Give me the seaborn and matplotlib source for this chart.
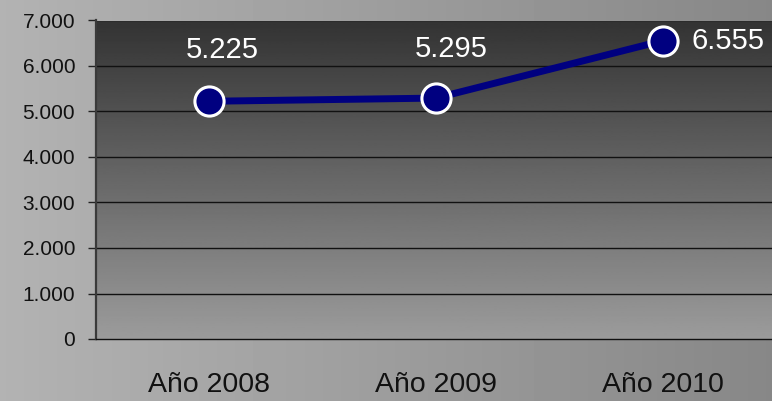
import numpy as np
import pandas as pd
import matplotlib
matplotlib.use("Agg")
import matplotlib.pyplot as plt
import seaborn as sns

# data
years = ["Año 2008", "Año 2009", "Año 2010"]
values = [5225, 5295, 6555]
value_labels = ["5.225", "5.295", "6.555"]
y_ticks = [0, 1000, 2000, 3000, 4000, 5000, 6000, 7000]
y_tick_labels = ["0", "1.000", "2.000", "3.000", "4.000", "5.000", "6.000", "7.000"]

df = pd.DataFrame({"year": years, "value": values})

sns.set_theme(style="white")
plt.rcParams["font.family"] = ["Liberation Sans", "DejaVu Sans"]

fig = plt.figure(figsize=(7.72, 4.01), dpi=100)

# page background: grey horizontal gradient
bg = fig.add_axes([0, 0, 1, 1], zorder=-1)
bg_grad = np.linspace(0.70, 0.53, 256).reshape(1, -1)
bg.imshow(bg_grad, cmap="gray", vmin=0, vmax=1, aspect="auto", extent=[0, 1, 0, 1])
bg.set_axis_off()

ax = fig.add_axes([96 / 772, 1 - 339 / 401, 1.005 - 96 / 772, (339 - 20.5) / 401])
ax.patch.set_alpha(0)

# plot area: vertical gradient dark at top, light at bottom
pa_grad = np.linspace(0.61, 0.20, 256).reshape(-1, 1)
ax.imshow(pa_grad[::-1], cmap="gray", vmin=0, vmax=1, aspect="auto",
          extent=[0, 1, 0, 1], transform=ax.transAxes, zorder=0)

for t in y_ticks[1:]:
    ax.axhline(t, color="#111111", lw=1.0, zorder=1)

sns.lineplot(data=df, x="year", y="value", ax=ax, color="#000080", lw=5,
             marker="o", markersize=21, markerfacecolor="#000080",
             markeredgecolor="white", markeredgewidth=2.2, zorder=3)

offsets = [(9, 37), (11, 35), (21, 0)]
aligns = ["center", "center", "left"]
for i, (lab, off, ha) in enumerate(zip(value_labels, offsets, aligns)):
    ax.annotate(lab, (i, values[i]), xytext=off, textcoords="offset points",
                ha=ha, va="center", color="white", fontsize=21, zorder=4)

ax.set_xlim(-0.5, 2.5)
ax.set_ylim(0, 7000)
ax.set_yticks(y_ticks)
ax.set_yticklabels(y_tick_labels, fontsize=15, color="#111111")
ax.set_xticks(range(len(years)))
ax.set_xticklabels(years, fontsize=20.5, color="#111111")
ax.set_xticks([-0.5, 0.5, 1.5, 2.5], minor=True)
ax.tick_params(axis="x", which="major", length=0, pad=24)
ax.tick_params(axis="x", which="minor", length=7, width=1, color="#222222", direction="out")
ax.tick_params(axis="y", length=6, width=1, color="#222222", direction="out", pad=9, left=True)
ax.set_xlabel("")
ax.set_ylabel("")

for s in ["top", "right"]:
    ax.spines[s].set_visible(False)
ax.spines["left"].set_color("#3a3a3a")
ax.spines["left"].set_linewidth(1.6)
ax.spines["bottom"].set_color("#111111")
ax.spines["bottom"].set_linewidth(1.0)

fig.savefig("out.png", dpi=100)
